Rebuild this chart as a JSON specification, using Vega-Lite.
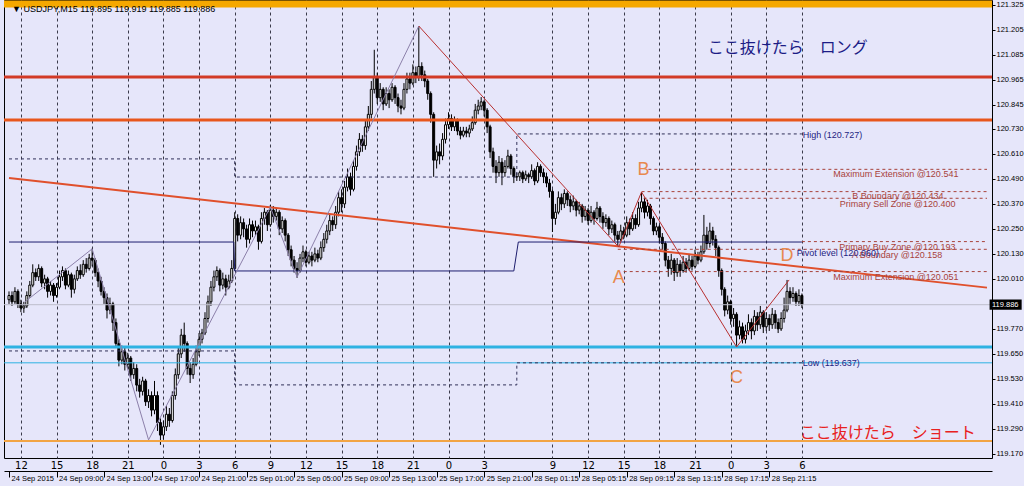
{
"$schema": "https://vega.github.io/schema/vega-lite/v6.json",
"width": 988, "height": 458,
"autosize": {"type": "none"},
"padding": {"left": 4, "top": 0, "right": 32, "bottom": 28},
"background": "#E6E6FA",
"config": {"view": {"stroke": "#000000", "strokeWidth": 1, "fill": "#E6E6FA"}, "font": "Liberation Sans"},
"resolve": {"axis": {"x": "independent", "y": "independent"}},
"datasets": {
"bars": [
{"i":0,"o":119.91,"h":119.95,"l":119.89,"c":119.93},{"i":1,"o":119.93,"h":119.95,"l":119.88,"c":119.90},{"i":2,"o":119.90,"h":119.97,"l":119.89,"c":119.95},{"i":3,"o":119.95,"h":119.96,"l":119.87,"c":119.89},{"i":4,"o":119.89,"h":119.91,"l":119.85,"c":119.87},{"i":5,"o":119.87,"h":119.90,"l":119.847,"c":119.88},{"i":6,"o":119.88,"h":119.95,"l":119.87,"c":119.93},{"i":7,"o":119.93,"h":120.00,"l":119.92,"c":119.98},{"i":8,"o":119.98,"h":120.08,"l":119.97,"c":120.04},{"i":9,"o":120.04,"h":120.06,"l":120.00,"c":120.02},
{"i":10,"o":120.02,"h":120.08,"l":120.00,"c":120.06},{"i":11,"o":120.06,"h":120.07,"l":119.97,"c":119.99},{"i":12,"o":119.99,"h":120.03,"l":119.96,"c":120.01},{"i":13,"o":120.01,"h":120.02,"l":119.92,"c":119.95},{"i":14,"o":119.95,"h":120.00,"l":119.93,"c":119.98},{"i":15,"o":119.98,"h":119.99,"l":119.90,"c":119.93},{"i":16,"o":119.93,"h":119.99,"l":119.92,"c":119.97},{"i":17,"o":119.97,"h":120.05,"l":119.96,"c":120.02},{"i":18,"o":120.02,"h":120.07,"l":120.00,"c":120.05},{"i":19,"o":120.05,"h":120.06,"l":119.96,"c":119.98},
{"i":20,"o":119.98,"h":120.05,"l":119.97,"c":120.03},{"i":21,"o":120.03,"h":120.04,"l":119.92,"c":119.96},{"i":22,"o":119.96,"h":120.03,"l":119.94,"c":120.01},{"i":23,"o":120.01,"h":120.07,"l":120.00,"c":120.05},{"i":24,"o":120.05,"h":120.08,"l":120.01,"c":120.03},{"i":25,"o":120.03,"h":120.10,"l":120.02,"c":120.08},{"i":26,"o":120.08,"h":120.11,"l":120.04,"c":120.06},{"i":27,"o":120.06,"h":120.13,"l":120.05,"c":120.11},{"i":28,"o":120.11,"h":120.155,"l":120.07,"c":120.10},{"i":29,"o":120.10,"h":120.11,"l":120.02,"c":120.04},
{"i":30,"o":120.04,"h":120.06,"l":119.97,"c":120.00},{"i":31,"o":120.00,"h":120.02,"l":119.93,"c":119.95},{"i":32,"o":119.95,"h":119.97,"l":119.89,"c":119.92},{"i":33,"o":119.92,"h":119.94,"l":119.82,"c":119.86},{"i":34,"o":119.86,"h":119.92,"l":119.84,"c":119.89},{"i":35,"o":119.89,"h":119.90,"l":119.76,"c":119.80},{"i":36,"o":119.80,"h":119.82,"l":119.68,"c":119.70},{"i":37,"o":119.70,"h":119.72,"l":119.59,"c":119.62},{"i":38,"o":119.62,"h":119.69,"l":119.60,"c":119.66},{"i":39,"o":119.66,"h":119.68,"l":119.57,"c":119.60},
{"i":40,"o":119.60,"h":119.655,"l":119.58,"c":119.63},{"i":41,"o":119.63,"h":119.64,"l":119.52,"c":119.55},{"i":42,"o":119.55,"h":119.61,"l":119.53,"c":119.58},{"i":43,"o":119.58,"h":119.60,"l":119.47,"c":119.50},{"i":44,"o":119.50,"h":119.53,"l":119.44,"c":119.47},{"i":45,"o":119.47,"h":119.54,"l":119.45,"c":119.52},{"i":46,"o":119.52,"h":119.53,"l":119.40,"c":119.42},{"i":47,"o":119.42,"h":119.48,"l":119.39,"c":119.45},{"i":48,"o":119.45,"h":119.47,"l":119.35,"c":119.38},{"i":49,"o":119.38,"h":119.52,"l":119.36,"c":119.45},
{"i":50,"o":119.45,"h":119.47,"l":119.28,"c":119.32},{"i":51,"o":119.32,"h":119.34,"l":119.213,"c":119.26},{"i":52,"o":119.26,"h":119.33,"l":119.24,"c":119.30},{"i":53,"o":119.30,"h":119.40,"l":119.28,"c":119.36},{"i":54,"o":119.36,"h":119.39,"l":119.30,"c":119.33},{"i":55,"o":119.33,"h":119.47,"l":119.32,"c":119.45},{"i":56,"o":119.45,"h":119.58,"l":119.43,"c":119.55},{"i":57,"o":119.55,"h":119.68,"l":119.53,"c":119.65},{"i":58,"o":119.65,"h":119.77,"l":119.63,"c":119.74},{"i":59,"o":119.74,"h":119.80,"l":119.66,"c":119.70},
{"i":60,"o":119.70,"h":119.71,"l":119.55,"c":119.58},{"i":61,"o":119.58,"h":119.61,"l":119.51,"c":119.55},{"i":62,"o":119.55,"h":119.63,"l":119.53,"c":119.60},{"i":63,"o":119.60,"h":119.69,"l":119.59,"c":119.66},{"i":64,"o":119.66,"h":119.75,"l":119.64,"c":119.72},{"i":65,"o":119.72,"h":119.77,"l":119.70,"c":119.75},{"i":66,"o":119.75,"h":119.85,"l":119.74,"c":119.82},{"i":67,"o":119.82,"h":119.93,"l":119.80,"c":119.90},{"i":68,"o":119.90,"h":120.00,"l":119.88,"c":119.97},{"i":69,"o":119.97,"h":120.05,"l":119.95,"c":120.02},
{"i":70,"o":120.02,"h":120.07,"l":120.00,"c":120.05},{"i":71,"o":120.05,"h":120.06,"l":119.95,"c":119.98},{"i":72,"o":119.98,"h":120.04,"l":119.96,"c":120.01},{"i":73,"o":120.01,"h":120.03,"l":119.93,"c":119.97},{"i":74,"o":119.97,"h":120.03,"l":119.96,"c":120.00},{"i":75,"o":120.00,"h":120.10,"l":119.99,"c":120.06},{"i":76,"o":120.06,"h":120.33,"l":120.05,"c":120.30},{"i":77,"o":120.30,"h":120.32,"l":120.19,"c":120.22},{"i":78,"o":120.22,"h":120.31,"l":120.20,"c":120.28},{"i":79,"o":120.28,"h":120.30,"l":120.21,"c":120.25},
{"i":80,"o":120.25,"h":120.27,"l":120.16,"c":120.20},{"i":81,"o":120.20,"h":120.30,"l":120.18,"c":120.27},{"i":82,"o":120.27,"h":120.29,"l":120.21,"c":120.24},{"i":83,"o":120.24,"h":120.29,"l":120.22,"c":120.26},{"i":84,"o":120.26,"h":120.27,"l":120.15,"c":120.19},{"i":85,"o":120.19,"h":120.33,"l":120.18,"c":120.30},{"i":86,"o":120.30,"h":120.35,"l":120.27,"c":120.33},{"i":87,"o":120.33,"h":120.34,"l":120.24,"c":120.27},{"i":88,"o":120.27,"h":120.365,"l":120.26,"c":120.34},{"i":89,"o":120.34,"h":120.36,"l":120.28,"c":120.31},
{"i":90,"o":120.31,"h":120.35,"l":120.29,"c":120.33},{"i":91,"o":120.33,"h":120.34,"l":120.22,"c":120.25},{"i":92,"o":120.25,"h":120.31,"l":120.23,"c":120.29},{"i":93,"o":120.29,"h":120.30,"l":120.19,"c":120.22},{"i":94,"o":120.22,"h":120.23,"l":120.12,"c":120.15},{"i":95,"o":120.15,"h":120.17,"l":120.07,"c":120.10},{"i":96,"o":120.10,"h":120.12,"l":120.04,"c":120.06},{"i":97,"o":120.06,"h":120.09,"l":120.015,"c":120.05},{"i":98,"o":120.05,"h":120.13,"l":120.04,"c":120.11},{"i":99,"o":120.11,"h":120.17,"l":120.09,"c":120.14},
{"i":100,"o":120.14,"h":120.15,"l":120.07,"c":120.09},{"i":101,"o":120.09,"h":120.14,"l":120.08,"c":120.12},{"i":102,"o":120.12,"h":120.14,"l":120.07,"c":120.10},{"i":103,"o":120.10,"h":120.16,"l":120.09,"c":120.13},{"i":104,"o":120.13,"h":120.15,"l":120.09,"c":120.11},{"i":105,"o":120.11,"h":120.19,"l":120.10,"c":120.16},{"i":106,"o":120.16,"h":120.23,"l":120.14,"c":120.20},{"i":107,"o":120.20,"h":120.27,"l":120.18,"c":120.24},{"i":108,"o":120.24,"h":120.32,"l":120.22,"c":120.29},{"i":109,"o":120.29,"h":120.31,"l":120.24,"c":120.27},
{"i":110,"o":120.27,"h":120.36,"l":120.25,"c":120.33},{"i":111,"o":120.33,"h":120.43,"l":120.31,"c":120.40},{"i":112,"o":120.40,"h":120.44,"l":120.33,"c":120.37},{"i":113,"o":120.37,"h":120.48,"l":120.35,"c":120.45},{"i":114,"o":120.45,"h":120.54,"l":120.43,"c":120.50},{"i":115,"o":120.50,"h":120.52,"l":120.41,"c":120.44},{"i":116,"o":120.44,"h":120.58,"l":120.43,"c":120.55},{"i":117,"o":120.55,"h":120.65,"l":120.53,"c":120.62},{"i":118,"o":120.62,"h":120.71,"l":120.60,"c":120.68},{"i":119,"o":120.68,"h":120.70,"l":120.62,"c":120.65},
{"i":120,"o":120.65,"h":120.77,"l":120.63,"c":120.74},{"i":121,"o":120.74,"h":120.84,"l":120.72,"c":120.80},{"i":122,"o":120.80,"h":120.96,"l":120.78,"c":120.92},{"i":123,"o":120.92,"h":121.11,"l":120.90,"c":120.98},{"i":124,"o":120.98,"h":121.00,"l":120.85,"c":120.88},{"i":125,"o":120.88,"h":120.95,"l":120.86,"c":120.92},{"i":126,"o":120.92,"h":120.93,"l":120.82,"c":120.85},{"i":127,"o":120.85,"h":120.93,"l":120.84,"c":120.90},{"i":128,"o":120.90,"h":120.92,"l":120.83,"c":120.87},{"i":129,"o":120.87,"h":120.95,"l":120.86,"c":120.93},
{"i":130,"o":120.93,"h":120.94,"l":120.85,"c":120.88},{"i":131,"o":120.88,"h":120.90,"l":120.81,"c":120.84},{"i":132,"o":120.84,"h":120.87,"l":120.80,"c":120.83},{"i":133,"o":120.83,"h":120.95,"l":120.82,"c":120.92},{"i":134,"o":120.92,"h":121.00,"l":120.90,"c":120.97},{"i":135,"o":120.97,"h":121.00,"l":120.92,"c":120.95},{"i":136,"o":120.95,"h":121.04,"l":120.94,"c":121.00},{"i":137,"o":121.00,"h":121.03,"l":120.95,"c":120.98},{"i":138,"o":120.98,"h":121.224,"l":120.96,"c":121.03},{"i":139,"o":121.03,"h":121.05,"l":120.96,"c":120.99},
{"i":140,"o":120.99,"h":121.01,"l":120.93,"c":120.96},{"i":141,"o":120.96,"h":120.97,"l":120.87,"c":120.90},{"i":142,"o":120.90,"h":120.91,"l":120.76,"c":120.80},{"i":143,"o":120.80,"h":120.81,"l":120.50,"c":120.58},{"i":144,"o":120.58,"h":120.65,"l":120.54,"c":120.62},{"i":145,"o":120.62,"h":120.66,"l":120.56,"c":120.60},{"i":146,"o":120.60,"h":120.71,"l":120.58,"c":120.68},{"i":147,"o":120.68,"h":120.78,"l":120.66,"c":120.75},{"i":148,"o":120.75,"h":120.81,"l":120.73,"c":120.78},{"i":149,"o":120.78,"h":120.80,"l":120.72,"c":120.74},
{"i":150,"o":120.74,"h":120.79,"l":120.72,"c":120.77},{"i":151,"o":120.77,"h":120.78,"l":120.70,"c":120.72},{"i":152,"o":120.72,"h":120.74,"l":120.68,"c":120.70},{"i":153,"o":120.70,"h":120.74,"l":120.69,"c":120.72},{"i":154,"o":120.72,"h":120.74,"l":120.69,"c":120.71},{"i":155,"o":120.71,"h":120.75,"l":120.69,"c":120.73},{"i":156,"o":120.73,"h":120.79,"l":120.72,"c":120.76},{"i":157,"o":120.76,"h":120.85,"l":120.75,"c":120.82},{"i":158,"o":120.82,"h":120.87,"l":120.80,"c":120.84},{"i":159,"o":120.84,"h":120.883,"l":120.82,"c":120.86},
{"i":160,"o":120.86,"h":120.87,"l":120.79,"c":120.82},{"i":161,"o":120.82,"h":120.83,"l":120.71,"c":120.74},{"i":162,"o":120.74,"h":120.75,"l":120.59,"c":120.62},{"i":163,"o":120.62,"h":120.64,"l":120.52,"c":120.55},{"i":164,"o":120.55,"h":120.58,"l":120.47,"c":120.52},{"i":165,"o":120.52,"h":120.60,"l":120.50,"c":120.57},{"i":166,"o":120.57,"h":120.59,"l":120.46,"c":120.52},{"i":167,"o":120.52,"h":120.58,"l":120.50,"c":120.55},{"i":168,"o":120.55,"h":120.63,"l":120.54,"c":120.60},{"i":169,"o":120.60,"h":120.61,"l":120.51,"c":120.54},
{"i":170,"o":120.54,"h":120.55,"l":120.47,"c":120.50},{"i":171,"o":120.50,"h":120.52,"l":120.48,"c":120.50},{"i":172,"o":120.50,"h":120.53,"l":120.48,"c":120.52},{"i":173,"o":120.52,"h":120.53,"l":120.47,"c":120.49},{"i":174,"o":120.49,"h":120.53,"l":120.48,"c":120.51},{"i":175,"o":120.51,"h":120.52,"l":120.47,"c":120.50},{"i":176,"o":120.50,"h":120.56,"l":120.49,"c":120.53},{"i":177,"o":120.53,"h":120.54,"l":120.46,"c":120.48},{"i":178,"o":120.48,"h":120.57,"l":120.47,"c":120.55},{"i":179,"o":120.55,"h":120.56,"l":120.50,"c":120.52},
{"i":180,"o":120.52,"h":120.54,"l":120.47,"c":120.50},{"i":181,"o":120.50,"h":120.52,"l":120.45,"c":120.47},{"i":182,"o":120.47,"h":120.49,"l":120.40,"c":120.43},{"i":183,"o":120.43,"h":120.44,"l":120.235,"c":120.30},{"i":184,"o":120.30,"h":120.37,"l":120.27,"c":120.33},{"i":185,"o":120.33,"h":120.43,"l":120.32,"c":120.40},{"i":186,"o":120.40,"h":120.42,"l":120.34,"c":120.37},{"i":187,"o":120.37,"h":120.44,"l":120.35,"c":120.42},{"i":188,"o":120.42,"h":120.43,"l":120.36,"c":120.39},{"i":189,"o":120.39,"h":120.41,"l":120.33,"c":120.36},
{"i":190,"o":120.36,"h":120.41,"l":120.34,"c":120.38},{"i":191,"o":120.38,"h":120.39,"l":120.31,"c":120.34},{"i":192,"o":120.34,"h":120.38,"l":120.32,"c":120.36},{"i":193,"o":120.36,"h":120.37,"l":120.28,"c":120.31},{"i":194,"o":120.31,"h":120.36,"l":120.29,"c":120.34},{"i":195,"o":120.34,"h":120.35,"l":120.27,"c":120.29},{"i":196,"o":120.29,"h":120.36,"l":120.28,"c":120.33},{"i":197,"o":120.33,"h":120.34,"l":120.27,"c":120.30},{"i":198,"o":120.30,"h":120.38,"l":120.29,"c":120.35},{"i":199,"o":120.35,"h":120.36,"l":120.28,"c":120.31},
{"i":200,"o":120.31,"h":120.33,"l":120.25,"c":120.28},{"i":201,"o":120.28,"h":120.32,"l":120.26,"c":120.30},{"i":202,"o":120.30,"h":120.31,"l":120.22,"c":120.25},{"i":203,"o":120.25,"h":120.29,"l":120.23,"c":120.27},{"i":204,"o":120.27,"h":120.28,"l":120.19,"c":120.22},{"i":205,"o":120.22,"h":120.24,"l":120.163,"c":120.20},{"i":206,"o":120.20,"h":120.27,"l":120.19,"c":120.24},{"i":207,"o":120.24,"h":120.26,"l":120.20,"c":120.22},{"i":208,"o":120.22,"h":120.31,"l":120.21,"c":120.28},{"i":209,"o":120.28,"h":120.30,"l":120.22,"c":120.25},
{"i":210,"o":120.25,"h":120.33,"l":120.24,"c":120.30},{"i":211,"o":120.30,"h":120.32,"l":120.25,"c":120.27},{"i":212,"o":120.27,"h":120.38,"l":120.26,"c":120.35},{"i":213,"o":120.35,"h":120.427,"l":120.33,"c":120.38},{"i":214,"o":120.38,"h":120.40,"l":120.30,"c":120.33},{"i":215,"o":120.33,"h":120.39,"l":120.31,"c":120.36},{"i":216,"o":120.36,"h":120.37,"l":120.27,"c":120.30},{"i":217,"o":120.30,"h":120.31,"l":120.22,"c":120.24},{"i":218,"o":120.24,"h":120.28,"l":120.22,"c":120.26},{"i":219,"o":120.26,"h":120.27,"l":120.18,"c":120.21},
{"i":220,"o":120.21,"h":120.23,"l":120.15,"c":120.18},{"i":221,"o":120.18,"h":120.19,"l":120.07,"c":120.10},{"i":222,"o":120.10,"h":120.12,"l":120.02,"c":120.06},{"i":223,"o":120.06,"h":120.13,"l":120.03,"c":120.10},{"i":224,"o":120.10,"h":120.11,"l":120.00,"c":120.04},{"i":225,"o":120.04,"h":120.11,"l":120.02,"c":120.08},{"i":226,"o":120.08,"h":120.10,"l":120.02,"c":120.05},{"i":227,"o":120.05,"h":120.12,"l":120.04,"c":120.09},{"i":228,"o":120.09,"h":120.11,"l":120.04,"c":120.06},{"i":229,"o":120.06,"h":120.13,"l":120.05,"c":120.10},
{"i":230,"o":120.10,"h":120.12,"l":120.05,"c":120.07},{"i":231,"o":120.07,"h":120.15,"l":120.06,"c":120.12},{"i":232,"o":120.12,"h":120.14,"l":120.08,"c":120.10},{"i":233,"o":120.10,"h":120.17,"l":120.09,"c":120.14},{"i":234,"o":120.14,"h":120.317,"l":120.13,"c":120.22},{"i":235,"o":120.22,"h":120.26,"l":120.15,"c":120.18},{"i":236,"o":120.18,"h":120.28,"l":120.16,"c":120.24},{"i":237,"o":120.24,"h":120.26,"l":120.17,"c":120.20},{"i":238,"o":120.20,"h":120.22,"l":120.12,"c":120.16},{"i":239,"o":120.16,"h":120.17,"l":120.02,"c":120.05},
{"i":240,"o":120.05,"h":120.06,"l":119.93,"c":119.96},{"i":241,"o":119.96,"h":119.97,"l":119.83,"c":119.86},{"i":242,"o":119.86,"h":119.93,"l":119.84,"c":119.90},{"i":243,"o":119.90,"h":119.91,"l":119.79,"c":119.82},{"i":244,"o":119.82,"h":119.87,"l":119.78,"c":119.84},{"i":245,"o":119.84,"h":119.85,"l":119.683,"c":119.74},{"i":246,"o":119.74,"h":119.81,"l":119.72,"c":119.78},{"i":247,"o":119.78,"h":119.80,"l":119.70,"c":119.72},{"i":248,"o":119.72,"h":119.79,"l":119.70,"c":119.76},{"i":249,"o":119.76,"h":119.84,"l":119.74,"c":119.80},
{"i":250,"o":119.80,"h":119.82,"l":119.72,"c":119.76},{"i":251,"o":119.76,"h":119.86,"l":119.74,"c":119.83},{"i":252,"o":119.83,"h":119.85,"l":119.76,"c":119.79},{"i":253,"o":119.79,"h":119.88,"l":119.77,"c":119.85},{"i":254,"o":119.85,"h":119.86,"l":119.75,"c":119.78},{"i":255,"o":119.78,"h":119.85,"l":119.76,"c":119.82},{"i":256,"o":119.82,"h":119.84,"l":119.76,"c":119.79},{"i":257,"o":119.79,"h":119.87,"l":119.77,"c":119.84},{"i":258,"o":119.84,"h":119.86,"l":119.77,"c":119.80},{"i":259,"o":119.80,"h":119.82,"l":119.75,"c":119.77},
{"i":260,"o":119.77,"h":119.85,"l":119.76,"c":119.82},{"i":261,"o":119.82,"h":119.92,"l":119.80,"c":119.86},{"i":262,"o":119.86,"h":120.005,"l":119.85,"c":119.95},{"i":263,"o":119.95,"h":119.97,"l":119.89,"c":119.92},{"i":264,"o":119.92,"h":119.97,"l":119.90,"c":119.94},{"i":265,"o":119.94,"h":119.95,"l":119.88,"c":119.90},{"i":266,"o":119.90,"h":119.96,"l":119.88,"c":119.93},{"i":267,"o":119.93,"h":119.94,"l":119.87,"c":119.886}
],
"levels": [
{"k":"band","p":121.330},{"k":"res1","p":120.979},{"k":"res2","p":120.773},{"k":"sup1","p":119.683},{"k":"sup2","p":119.607},{"k":"short","p":119.232},{"k":"cur","p":119.886}
],
"paths": [
{"k":"trend","n":0,"i":0,"p":120.494},{"k":"trend","n":1,"i":329.33,"p":119.968},
{"k":"pivot","n":0,"i":0,"p":120.187},{"k":"pivot","n":1,"i":75.7,"p":120.187},{"k":"pivot","n":2,"i":76,"p":120.048},{"k":"pivot","n":3,"i":170,"p":120.048},{"k":"pivot","n":4,"i":171.5,"p":120.187},{"k":"pivot","n":5,"i":267,"p":120.187},
{"k":"dayhi","n":0,"i":0,"p":120.586},{"k":"dayhi","n":1,"i":76,"p":120.586},{"k":"dayhi","n":2,"i":76,"p":120.499},{"k":"dayhi","n":3,"i":171,"p":120.499},{"k":"dayhi","n":4,"i":171,"p":120.706},{"k":"dayhi","n":5,"i":267,"p":120.706},
{"k":"daylo","n":0,"i":0,"p":119.664},{"k":"daylo","n":1,"i":76,"p":119.664},{"k":"daylo","n":2,"i":76,"p":119.501},{"k":"daylo","n":3,"i":171,"p":119.501},{"k":"daylo","n":4,"i":171,"p":119.607},{"k":"daylo","n":5,"i":267,"p":119.607},
{"k":"zig","n":0,"i":5.3,"p":119.899},{"k":"zig","n":1,"i":28,"p":120.154},{"k":"zig","n":2,"i":47,"p":119.237},{"k":"zig","n":3,"i":88,"p":120.355},{"k":"zig","n":4,"i":97,"p":120.019},{"k":"zig","n":5,"i":138,"p":121.224},
{"k":"harm","n":0,"i":138,"p":121.224},{"k":"harm","n":1,"i":205.3,"p":120.163},{"k":"harm","n":2,"i":213,"p":120.427},{"k":"harm","n":3,"i":245,"p":119.683},{"k":"harm","n":4,"i":262.7,"p":120.005}
],
"zones": [
{"k":"lvl","i0":215.3,"i1":329.33,"p":120.536},{"k":"lvl","i0":213,"i1":329.33,"p":120.429},{"k":"lvl","i0":213.7,"i1":329.33,"p":120.397},{"k":"lvl","i0":267,"i1":329.33,"p":120.189},{"k":"lvl","i0":205,"i1":329.33,"p":120.152},{"k":"lvl","i0":207,"i1":329.33,"p":120.045}
],
"texts": [
{"k":"abc","i":205.3,"p":120.014,"t":"A"},{"k":"abc","i":213.7,"p":120.533,"t":"B"},{"k":"abc","i":245,"p":119.534,"t":"C"},{"k":"abc","i":262,"p":120.120,"t":"D"},
{"k":"lvl","i":319.7,"p":120.512,"t":"Maximum Extension @120.541"},{"k":"lvl","i":314.7,"p":120.407,"t":"B Boundary @120.434"},{"k":"lvl","i":318.7,"p":120.368,"t":"Primary Sell Zone @120.400"},{"k":"lvl","i":318.7,"p":120.164,"t":"Primary Buy Zone @120.193"},{"k":"lvl","i":314.3,"p":120.123,"t":"A Boundary @120.158"},{"k":"lvl","i":319.7,"p":120.021,"t":"Maximum Extension @120.051"},
{"k":"nav","i":267.3,"p":120.703,"t":"High (120.727)"},{"k":"nav","i":267.3,"p":119.604,"t":"Low (119.637)"},{"k":"nav","i":265.3,"p":120.134,"t":"Pivot level (120.060)"},
{"k":"jpl","i":235.3,"p":121.119,"t":"ここ抜けたら　ロング"},{"k":"jps","i":266.3,"p":119.270,"t":"ここ抜けたら　ショート"},
{"k":"ttl","i":1.0,"p":121.306,"t":"▼ USDJPY,M15  119.895 119.919 119.885 119.886"}
],
"pricebox": [{"k":"box","i":330.2,"i2":341,"p":119.862,"p2":119.911,"t":"119.886","ti":331.0,"tp":119.886}]
},
"layer": [
{"data": {"name": "bars"}, "mark": {"type": "rule", "color": "#000000", "strokeWidth": 1},
 "encoding": {
  "x": {"field": "i", "type": "quantitative", "scale": {"domain": [0, 329.33], "nice": false, "zero": false},
   "axis": {"values": [4,16,28,40,52,64,76,88,100,112,124,136,148,160,183,195,207,219,231,243,255,267],
    "labelExpr": "['12','15','18','21','0','3','6','9','12','15','18','21','0','3','9','12','15','18','21','0','3','6'][indexof([4,16,28,40,52,64,76,88,100,112,124,136,148,160,183,195,207,219,231,243,255,267], datum.value)]",
    "title": null, "grid": true, "gridColor": "#3A3A4A", "gridDash": [3, 3], "gridWidth": 1, "gridOpacity": 1,
    "domain": false, "ticks": false, "tickSize": 0, "labelPadding": 2, "labelFontSize": 10, "labelFont": "DejaVu Sans",
    "labelColor": "#000000", "labelFlush": false, "labelOverlap": false}},
  "y": {"field": "l", "type": "quantitative", "scale": {"domain": [119.15, 121.349], "nice": false, "zero": false},
   "axis": {"orient": "right", "values": [121.325,121.205,121.085,120.965,120.845,120.730,120.610,120.490,120.370,120.250,120.130,120.010,119.770,119.650,119.530,119.410,119.290,119.170],
    "format": ".3f", "title": null, "grid": false, "domain": false, "ticks": true, "tickSize": 3, "tickColor": "#000000",
    "labelFontSize": 7.5, "labelFont": "Liberation Sans", "labelColor": "#000000", "labelPadding": 1, "labelOverlap": false, "labelFlush": false, "labelBound": false}},
  "y2": {"field": "h"}
 }},
{"data": {"name": "bars"}, "mark": {"type": "bar", "size": 2, "stroke": "#000000", "strokeWidth": 1},
 "encoding": {
  "x": {"field": "i", "type": "quantitative", "scale": {"domain": [0, 329.33], "nice": false, "zero": false},
   "axis": {"orient": "bottom", "offset": 13, "values": [0,16,32,48,64,80,96,112,128,144,160,176,192,208,224,240,256],
    "labelExpr": "['24 Sep 2015','24 Sep 09:00','24 Sep 13:00','24 Sep 17:00','24 Sep 21:00','25 Sep 01:00','25 Sep 05:00','25 Sep 09:00','25 Sep 13:00','25 Sep 17:00','25 Sep 21:00','28 Sep 01:15','28 Sep 05:15','28 Sep 09:15','28 Sep 13:15','28 Sep 17:15','28 Sep 21:15'][round(datum.value/16)]",
    "title": null, "grid": false, "domain": true, "domainColor": "#000000", "domainWidth": 1, "ticks": true, "tickSize": 6, "tickColor": "#000000",
    "labelAlign": "left", "labelBaseline": "top", "labelOffset": 2, "labelPadding": -3, "labelFontSize": 7.5, "labelFont": "Liberation Sans",
    "labelColor": "#000000", "labelFlush": false, "labelOverlap": false}},
  "y": {"field": "o", "type": "quantitative", "scale": {"domain": [119.15, 121.349], "nice": false, "zero": false}, "axis": null},
  "y2": {"field": "c"},
  "fill": {"condition": {"test": "datum.c >= datum.o", "value": "#FFFFFF"}, "value": "#000000"}
 }},
{"data": {"name": "levels"}, "transform": [{"filter": {"field": "k", "oneOf": ["res1", "res2", "sup1"]}}],
 "mark": {"type": "rule", "strokeWidth": 3},
 "encoding": {
  "y": {"field": "p", "type": "quantitative", "scale": {"domain": [119.15, 121.349], "nice": false, "zero": false}, "axis": null},
  "color": {"field": "k", "type": "nominal", "legend": null,
   "scale": {"domain": ["band","res1","res2","sup1","sup2","short","cur","trend","pivot","dayhi","daylo","zig","harm","lvl","abc","nav","jpl","jps","ttl","box"],
    "range": ["#F5A800","#D23A26","#E8561C","#2EB2E2","#2EB2E2","#F2A444","#BDBDCB","#E0502C","#1E1E6E","#303058","#303058","#8C80AA","#B83030","#A8423A","#E8894E","#1E1E82","#1C1C86","#E82020","#000000","#000000"]}}
 }},
{"data": {"name": "levels"}, "transform": [{"filter": {"field": "k", "oneOf": ["sup2", "cur"]}}],
 "mark": {"type": "rule", "strokeWidth": 1},
 "encoding": {
  "y": {"field": "p", "type": "quantitative", "axis": null},
  "color": {"field": "k", "type": "nominal", "legend": null}
 }},
{"data": {"name": "levels"}, "transform": [{"filter": {"field": "k", "oneOf": ["short"]}}],
 "mark": {"type": "rule", "strokeWidth": 2},
 "encoding": {
  "y": {"field": "p", "type": "quantitative", "axis": null},
  "color": {"field": "k", "type": "nominal", "legend": null}
 }},
{"data": {"name": "levels"}, "transform": [{"filter": {"field": "k", "oneOf": ["band"]}}],
 "mark": {"type": "rule", "strokeWidth": 7},
 "encoding": {
  "y": {"field": "p", "type": "quantitative", "axis": null},
  "color": {"field": "k", "type": "nominal", "legend": null}
 }},
{"data": {"name": "paths"}, "transform": [{"filter": {"field": "k", "oneOf": ["trend"]}}],
 "mark": {"type": "line", "strokeWidth": 2},
 "encoding": {
  "x": {"field": "i", "type": "quantitative", "axis": null},
  "y": {"field": "p", "type": "quantitative", "axis": null},
  "color": {"field": "k", "type": "nominal", "legend": null},
  "order": {"field": "n"}
 }},
{"data": {"name": "paths"}, "transform": [{"filter": {"field": "k", "oneOf": ["pivot", "zig", "harm"]}}],
 "mark": {"type": "line", "strokeWidth": 1},
 "encoding": {
  "x": {"field": "i", "type": "quantitative", "axis": null},
  "y": {"field": "p", "type": "quantitative", "axis": null},
  "color": {"field": "k", "type": "nominal", "legend": null},
  "order": {"field": "n"}
 }},
{"data": {"name": "paths"}, "transform": [{"filter": {"field": "k", "oneOf": ["dayhi", "daylo"]}}],
 "mark": {"type": "line", "strokeWidth": 1, "strokeDash": [3, 3]},
 "encoding": {
  "x": {"field": "i", "type": "quantitative", "axis": null},
  "y": {"field": "p", "type": "quantitative", "axis": null},
  "color": {"field": "k", "type": "nominal", "legend": null},
  "order": {"field": "n"}
 }},
{"data": {"name": "zones"},
 "mark": {"type": "rule", "strokeWidth": 1, "strokeDash": [3, 3]},
 "encoding": {
  "x": {"field": "i0", "type": "quantitative", "axis": null},
  "x2": {"field": "i1"},
  "y": {"field": "p", "type": "quantitative", "axis": null},
  "color": {"field": "k", "type": "nominal", "legend": null}
 }},
{"data": {"name": "texts"}, "transform": [{"filter": {"field": "k", "oneOf": ["abc"]}}],
 "mark": {"type": "text", "fontSize": 18, "font": "Liberation Sans", "align": "center", "baseline": "middle"},
 "encoding": {
  "x": {"field": "i", "type": "quantitative", "axis": null},
  "y": {"field": "p", "type": "quantitative", "axis": null},
  "text": {"field": "t"},
  "color": {"field": "k", "type": "nominal", "legend": null}
 }},
{"data": {"name": "texts"}, "transform": [{"filter": {"field": "k", "oneOf": ["lvl"]}}],
 "mark": {"type": "text", "fontSize": 9, "font": "Liberation Sans", "align": "right", "baseline": "middle"},
 "encoding": {
  "x": {"field": "i", "type": "quantitative", "axis": null},
  "y": {"field": "p", "type": "quantitative", "axis": null},
  "text": {"field": "t"},
  "color": {"field": "k", "type": "nominal", "legend": null}
 }},
{"data": {"name": "texts"}, "transform": [{"filter": {"field": "k", "oneOf": ["nav", "ttl"]}}],
 "mark": {"type": "text", "fontSize": 9, "font": "Liberation Sans", "align": "left", "baseline": "middle"},
 "encoding": {
  "x": {"field": "i", "type": "quantitative", "axis": null},
  "y": {"field": "p", "type": "quantitative", "axis": null},
  "text": {"field": "t"},
  "color": {"field": "k", "type": "nominal", "legend": null}
 }},
{"data": {"name": "texts"}, "transform": [{"filter": {"field": "k", "oneOf": ["jpl", "jps"]}}],
 "mark": {"type": "text", "fontSize": 16, "font": "Noto Sans CJK JP", "align": "left", "baseline": "middle"},
 "encoding": {
  "x": {"field": "i", "type": "quantitative", "axis": null},
  "y": {"field": "p", "type": "quantitative", "axis": null},
  "text": {"field": "t"},
  "color": {"field": "k", "type": "nominal", "legend": null}
 }},
{"data": {"name": "pricebox"},
 "mark": {"type": "rect"},
 "encoding": {
  "x": {"field": "i", "type": "quantitative", "axis": null},
  "x2": {"field": "i2"},
  "y": {"field": "p", "type": "quantitative", "axis": null},
  "y2": {"field": "p2"},
  "color": {"field": "k", "type": "nominal", "legend": null}
 }},
{"data": {"name": "pricebox"},
 "mark": {"type": "text", "fontSize": 7.5, "font": "Liberation Sans", "align": "left", "baseline": "middle", "color": "#FFFFFF"},
 "encoding": {
  "x": {"field": "ti", "type": "quantitative", "axis": null},
  "y": {"field": "tp", "type": "quantitative", "axis": null},
  "text": {"field": "t"}
 }}
]
}
